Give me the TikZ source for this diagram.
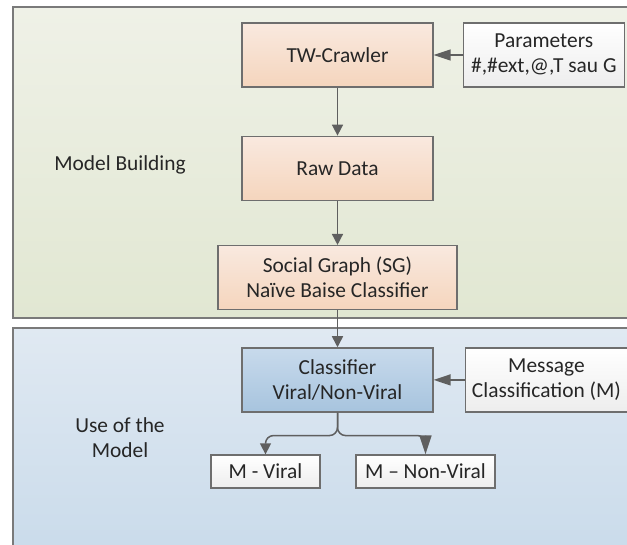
\documentclass[tikz,border=0pt]{standalone}
\usepackage{fontspec}
\setmainfont{Carlito}
\usetikzlibrary{positioning, arrows.meta}
\definecolor{txt}{HTML}{262626}
\definecolor{boxline}{HTML}{6E6E6E}
\definecolor{panelline}{HTML}{7A7A7A}
\definecolor{arrowgray}{HTML}{5F5F5F}
\definecolor{gtop}{HTML}{EFF1E7}
\definecolor{gbot}{HTML}{E1E7D2}
\definecolor{btop}{HTML}{E0E9F2}
\definecolor{bbot}{HTML}{C8DAEA}
\definecolor{ptop}{HTML}{F9E9DF}
\definecolor{pbot}{HTML}{F5D5BD}
\definecolor{ctop}{HTML}{C8DAEC}
\definecolor{cbot}{HTML}{A7C4DE}
\definecolor{wbot}{HTML}{EDEDED}
\tikzset{
  reg/.style={
    rectangle,
    minimum width=95.5pt,
    minimum height=32pt,
    align=center,
    draw=boxline,
    line width=0.65pt,
    top color=ptop,
    bottom color=pbot
  },
  inbox/.style={
    rectangle,
    minimum width=80.5pt,
    minimum height=32pt,
    align=center,
    draw=boxline,
    line width=0.65pt,
    top color=white,
    bottom color=wbot
  },
  highlight/.style={
    rectangle,
    minimum width=95.5pt,
    minimum height=32pt,
    align=center,
    draw=boxline,
    line width=0.65pt,
    top color=ctop,
    bottom color=cbot
  },
  leaf/.style={
    rectangle,
    minimum height=16.5pt,
    align=center,
    draw=boxline,
    line width=0.65pt,
    top color=white,
    bottom color=wbot
  },
  panel/.style={draw=panelline, line width=0.65pt},
  arrow/.style={line width=0.75pt, draw=arrowgray, -{Triangle[length=5.5pt,width=5.5pt]}},
  sidearrow/.style={line width=0.75pt, draw=arrowgray, -{Triangle[length=8.5pt,width=5.5pt]}}
}
\begin{document}
\begin{tikzpicture}[x=1pt, y=1pt, font=\fontsize{10.7}{12.5}\selectfont, text=txt]
    \useasboundingbox (0,0) rectangle (313.5,-272.5);
    \clip (0,0) rectangle (313.5,-272.5);
    % panels
    \draw[panel, top color=gtop, bottom color=gbot] (6.5,-3.5) rectangle (330,-159);
    \draw[panel, top color=btop, bottom color=bbot] (6.5,-164) rectangle (330,-285);
    % model building
    \node (tw) [reg] at (168.75,-27.5) {TW-Crawler};
    \node (params) [inbox, right=14.5pt of tw] {Parameters\\\#,\#ext,@,T sau G};
    \node (raw) [reg, below=24pt of tw] {Raw Data};
    \node (sg) [reg, minimum width=119.5pt, below=22pt of raw] {Social Graph (SG)\\Naïve Baise Classifier};
    \node (lbuild) at (60,-82.5) {Model Building};
    % use of the model
    \node (cls) [highlight, below=18.5pt of sg] {Classifier\\Viral/Non-Viral};
    \node (msg) [inbox, minimum width=81pt, right=15.5pt of cls] {Message\\Classification (M)};
    \node (mv) [leaf, minimum width=54.5pt] at (132.75,-235.75) {M - Viral};
    \node (mnv) [leaf, minimum width=69.5pt] at (212.75,-235.75) {M – Non-Viral};
    \node (luse) [align=center] at (60,-219) {Use of the\\Model};

    \draw[sidearrow] (params) -- (tw);
    \draw[arrow] (tw) -- (raw);
    \draw[arrow] (raw) -- (sg);
    \draw[arrow] (sg) -- (cls);
    \draw[sidearrow] (msg) -- (cls);
    \draw[arrow, rounded corners=4pt] (cls.south) -- ++(0,-11.5) -| (mv.north);
    \draw[arrow, rounded corners=4pt, -{Triangle[length=9.5pt,width=6pt]}] (cls.south) -- ++(0,-11.5) -| (mnv.north);
\end{tikzpicture}
\end{document}
